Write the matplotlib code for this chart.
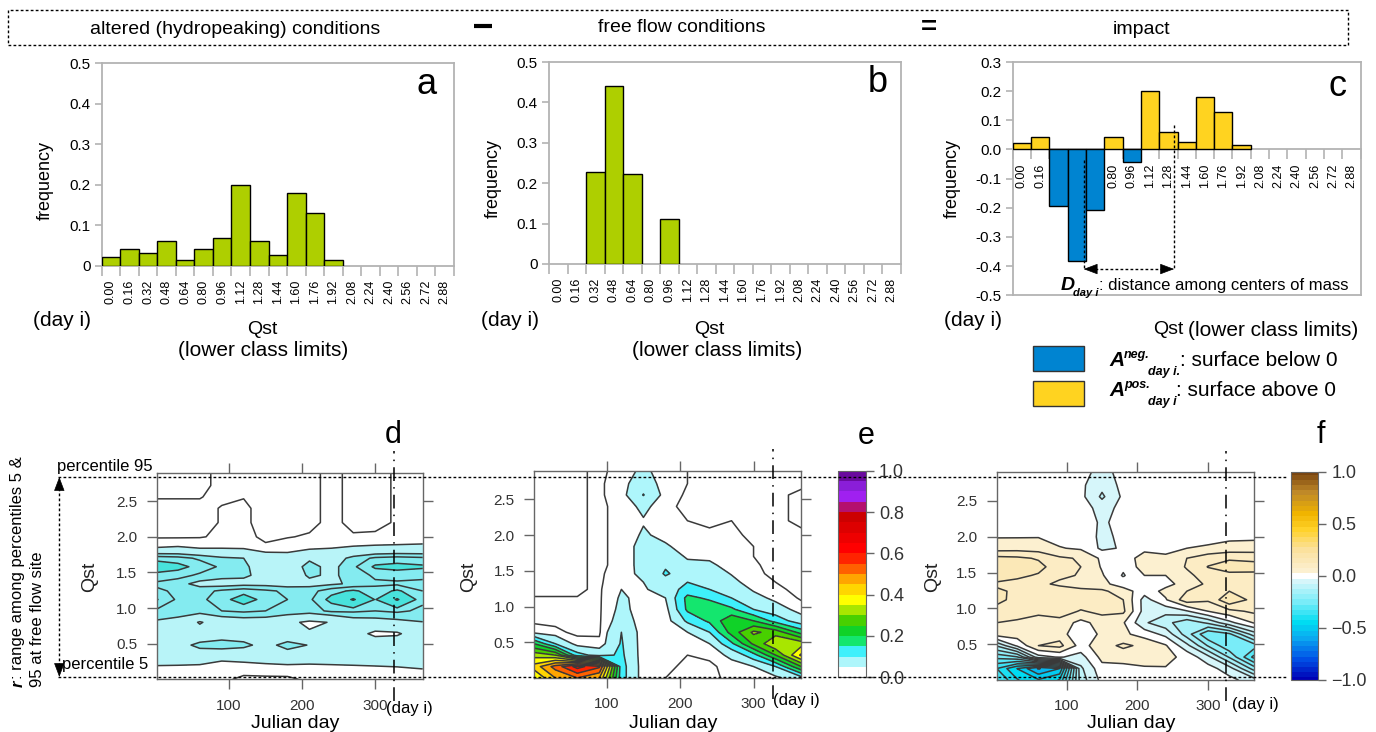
import matplotlib
matplotlib.use("Agg")
import matplotlib.pyplot as plt
import numpy as np
from matplotlib.colors import LinearSegmentedColormap
from matplotlib.patches import Rectangle, FancyArrowPatch
from matplotlib.lines import Line2D

plt.rcParams['font.family'] = ['Liberation Sans', 'DejaVu Sans']

# ---------------- histogram data (day i) ----------------
classes = [0.00, 0.16, 0.32, 0.48, 0.64, 0.80, 0.96, 1.12, 1.28, 1.44,
           1.60, 1.76, 1.92, 2.08, 2.24, 2.40, 2.56, 2.72, 2.88]
freq_altered = [0.022, 0.042, 0.032, 0.060, 0.014, 0.042, 0.069, 0.199, 0.060, 0.027,
                0.180, 0.129, 0.014, 0, 0, 0, 0, 0, 0]
freq_free = [0, 0, 0.227, 0.441, 0.223, 0, 0.111, 0, 0, 0,
             0, 0, 0, 0, 0, 0, 0, 0, 0]
impact = [round(a - b, 3) for a, b in zip(freq_altered, freq_free)]
com_neg, com_pos, com_y = 0.62, 1.41, -0.41

# ---------------- contour data: Qst (rows) x Julian day (cols) ----------------
days = [1, 30, 60, 90, 120, 150, 180, 210, 240, 270, 300, 330, 365]
qst_grid = [0.00, 0.16, 0.32, 0.48, 0.64, 0.80, 0.96, 1.12, 1.24, 1.34,
            1.46, 1.58, 1.70, 1.84, 2.00, 2.20, 2.40, 2.56, 2.72, 2.90]
day_i = 326

altered_freq = [
    [0.030, 0.030, 0.030, 0.030, 0.020, 0.020, 0.020, 0.030, 0.030, 0.030, 0.030, 0.030, 0.030],
    [0.045, 0.044, 0.040, 0.035, 0.035, 0.038, 0.040, 0.040, 0.042, 0.044, 0.046, 0.048, 0.052],
    [0.070, 0.070, 0.075, 0.060, 0.065, 0.070, 0.075, 0.070, 0.070, 0.070, 0.070, 0.070, 0.070],
    [0.080, 0.085, 0.110, 0.120, 0.110, 0.085, 0.115, 0.098, 0.080, 0.080, 0.080, 0.080, 0.080],
    [0.090, 0.080, 0.070, 0.075, 0.075, 0.070, 0.065, 0.055, 0.060, 0.070, 0.040, 0.044, 0.080],
    [0.095, 0.085, 0.046, 0.075, 0.080, 0.080, 0.060, 0.042, 0.052, 0.080, 0.085, 0.090, 0.099],
    [0.120, 0.118, 0.115, 0.125, 0.130, 0.125, 0.120, 0.115, 0.130, 0.130, 0.125, 0.130, 0.120],
    [0.152, 0.120, 0.118, 0.140, 0.165, 0.140, 0.125, 0.120, 0.160, 0.205, 0.148, 0.205, 0.130],
    [0.130, 0.120, 0.115, 0.130, 0.140, 0.130, 0.120, 0.115, 0.140, 0.155, 0.135, 0.155, 0.125],
    [0.120, 0.110, 0.090, 0.085, 0.090, 0.090, 0.085, 0.090, 0.095, 0.105, 0.120, 0.120, 0.120],
    [0.140, 0.135, 0.120, 0.110, 0.105, 0.090, 0.075, 0.105, 0.095, 0.110, 0.130, 0.135, 0.130],
    [0.170, 0.160, 0.140, 0.120, 0.105, 0.085, 0.080, 0.110, 0.090, 0.120, 0.155, 0.160, 0.155],
    [0.140, 0.135, 0.120, 0.105, 0.100, 0.080, 0.070, 0.095, 0.080, 0.110, 0.130, 0.135, 0.130],
    [0.052, 0.055, 0.050, 0.050, 0.048, 0.030, 0.035, 0.045, 0.050, 0.055, 0.058, 0.060, 0.062],
    [0.022, 0.022, 0.023, 0.030, 0.032, 0.020, 0.024, 0.027, 0.027, 0.027, 0.028, 0.028, 0.030],
    [0.020, 0.020, 0.020, 0.026, 0.030, 0.015, 0.020, 0.020, 0.030, 0.020, 0.020, 0.027, 0.027],
    [0.020, 0.020, 0.020, 0.026, 0.030, 0.015, 0.020, 0.020, 0.030, 0.020, 0.020, 0.027, 0.027],
    [0.008, 0.008, 0.008, 0.022, 0.024, 0.018, 0.020, 0.020, 0.030, 0.020, 0.020, 0.027, 0.027],
    [0.000, 0.000, 0.000, 0.020, 0.020, 0.020, 0.020, 0.020, 0.030, 0.020, 0.020, 0.027, 0.027],
    [0.000, 0.000, 0.000, 0.020, 0.020, 0.020, 0.020, 0.020, 0.030, 0.020, 0.020, 0.027, 0.027],
]

free_freq = [
    [0.350, 0.450, 0.500, 0.450, 0.120, 0.030, 0.025, 0.020, 0.020, 0.030, 0.030, 0.040, 0.080],
    [0.420, 0.520, 0.620, 0.560, 0.120, 0.030, 0.030, 0.020, 0.020, 0.035, 0.050, 0.100, 0.250],
    [0.330, 0.300, 0.120, 0.080, 0.110, 0.030, 0.030, 0.025, 0.030, 0.060, 0.130, 0.250, 0.410],
    [0.200, 0.100, 0.035, 0.030, 0.105, 0.030, 0.030, 0.035, 0.050, 0.140, 0.260, 0.345, 0.330],
    [0.040, 0.030, 0.020, 0.022, 0.100, 0.030, 0.030, 0.050, 0.100, 0.220, 0.310, 0.280, 0.180],
    [0.020, 0.020, 0.018, 0.022, 0.070, 0.035, 0.030, 0.110, 0.160, 0.240, 0.200, 0.130, 0.070],
    [0.015, 0.015, 0.015, 0.022, 0.060, 0.035, 0.035, 0.160, 0.190, 0.160, 0.100, 0.070, 0.035],
    [0.012, 0.012, 0.012, 0.022, 0.055, 0.040, 0.050, 0.165, 0.140, 0.100, 0.065, 0.040, 0.022],
    [0.000, 0.000, 0.000, 0.022, 0.050, 0.045, 0.070, 0.120, 0.100, 0.080, 0.045, 0.030, 0.018],
    [0.000, 0.000, 0.000, 0.022, 0.040, 0.050, 0.085, 0.100, 0.085, 0.060, 0.035, 0.025, 0.016],
    [0.000, 0.000, 0.000, 0.022, 0.035, 0.060, 0.105, 0.080, 0.070, 0.048, 0.030, 0.020, 0.015],
    [0.000, 0.000, 0.000, 0.022, 0.030, 0.065, 0.095, 0.060, 0.055, 0.040, 0.028, 0.018, 0.015],
    [0.000, 0.000, 0.000, 0.022, 0.030, 0.065, 0.075, 0.045, 0.045, 0.035, 0.025, 0.015, 0.015],
    [0.000, 0.000, 0.000, 0.022, 0.030, 0.065, 0.055, 0.035, 0.040, 0.030, 0.025, 0.015, 0.015],
    [0.000, 0.000, 0.000, 0.022, 0.030, 0.055, 0.040, 0.030, 0.028, 0.028, 0.022, 0.015, 0.015],
    [0.000, 0.000, 0.000, 0.022, 0.030, 0.047, 0.030, 0.025, 0.022, 0.025, 0.020, 0.015, 0.005],
    [0.000, 0.000, 0.000, 0.022, 0.030, 0.060, 0.030, 0.020, 0.025, 0.025, 0.020, 0.015, 0.005],
    [0.000, 0.000, 0.000, 0.022, 0.035, 0.102, 0.035, 0.022, 0.025, 0.025, 0.020, 0.015, 0.005],
    [0.000, 0.000, 0.000, 0.022, 0.035, 0.080, 0.030, 0.025, 0.022, 0.025, 0.020, 0.015, 0.015],
    [0.000, 0.000, 0.000, 0.022, 0.030, 0.060, 0.030, 0.025, 0.020, 0.025, 0.020, 0.015, 0.015],
]

W, H = 1376, 732
fig = plt.figure(figsize=(W / 100, H / 100), dpi=100)


def rect(l, t, r, b):
    return [l / W, 1 - b / H, (r - l) / W, (b - t) / H]


def ftext(x, y, s, **kw):
    kw.setdefault('ha', 'center')
    kw.setdefault('va', 'center')
    fig.text(x / W, 1 - y / H, s, **kw)


def fline(xs, ys, **kw):
    fig.add_artist(Line2D([x / W for x in xs], [1 - y / H for y in ys],
                          transform=fig.transFigure, **kw))


HEAD = '-|>,head_length=0.45,head_width=0.17'


def fhead(x0, y0, x1, y1):
    fig.add_artist(FancyArrowPatch((x0 / W, 1 - y0 / H), (x1 / W, 1 - y1 / H),
                                   transform=fig.transFigure, arrowstyle=HEAD,
                                   mutation_scale=20, color='black', lw=0.5,
                                   shrinkA=0, shrinkB=0))


DOT = (0, (2, 1.6))
GRAY = '#b3b3b3'
GREEN, BLUE, YELLOW = '#AECF00', '#0084D1', '#FFD320'

# ---------------- header ----------------
fig.add_artist(Rectangle((8 / W, 1 - 45 / H), 1340 / W, 35 / H, transform=fig.transFigure,
                         fill=False, edgecolor='black', lw=1, linestyle=DOT))
ftext(235, 29, 'altered (hydropeaking) conditions', fontsize=14)
ftext(682, 28, 'free flow conditions', fontsize=14)
ftext(1142, 29, 'impact', fontsize=14)
fline([474, 492], [26, 26], color='black', lw=3, solid_capstyle='butt')
ftext(929, 28, '=', fontsize=20, fontweight='bold')


# ---------------- histograms ----------------
def histogram(box, values, ylim, yticks, ylabels, colors, zero_axis=False):
    ax = fig.add_axes(box)
    if zero_axis:
        ax.spines['bottom'].set_position(('data', 0))
    keep = [k for k, v in enumerate(values) if v != 0]
    ax.bar([classes[k] for k in keep], [values[k] for k in keep], width=0.16, align='edge',
           color=[colors[k] for k in keep], edgecolor='black', linewidth=1, zorder=3)
    ax.set_xlim(0, 3.04)
    ax.set_ylim(*ylim)
    ax.set_xticks(classes + [3.04])
    ax.set_xticklabels([])
    ax.set_xticks([c + 0.08 for c in classes], minor=True)
    ax.set_xticklabels(['%.2f' % c for c in classes], minor=True, rotation=90, fontsize=9)
    ax.tick_params(axis='x', which='major', length=7, width=1.2, color=GRAY)
    ax.tick_params(axis='x', which='minor', length=0, pad=10)
    ax.set_yticks(yticks)
    ax.set_yticklabels(ylabels, fontsize=11)
    ax.tick_params(axis='y', length=5, width=1.2, color=GRAY, pad=3)
    for sp in ax.spines.values():
        sp.set_color(GRAY)
        sp.set_linewidth(1.3)
    return ax


yt = [0, 0.1, 0.2, 0.3, 0.4, 0.5]
yl = ['0', '0.1', '0.2', '0.3', '0.4', '0.5']
histogram(rect(101.7, 63.3, 454, 265.7), freq_altered, (0, 0.5), yt, yl, [GREEN] * 19)
histogram(rect(549, 62, 901, 264), freq_free, (0, 0.5), yt, yl, [GREEN] * 19)
ytc = [-0.5, -0.4, -0.3, -0.2, -0.1, 0, 0.1, 0.2, 0.3]
ax_c = histogram(rect(1012.7, 62, 1360.7, 295.3), impact, (-0.5, 0.3), ytc,
                 ['%.1f' % v for v in ytc], [BLUE if v < 0 else YELLOW for v in impact],
                 zero_axis=True)
ax_c.plot([0, 3.04], [-0.5, -0.5], color=GRAY, lw=1.3, clip_on=False)
ax_c.plot([com_neg, com_neg], [-0.036, com_y], color='black', lw=1, linestyle=DOT, zorder=4)
ax_c.plot([com_pos, com_pos], [0.084, com_y], color='black', lw=1, linestyle=DOT, zorder=4)
ax_c.plot([com_neg + 0.1, com_pos - 0.1], [com_y, com_y], color='black', lw=1, linestyle=DOT)
for x0, x1 in [(com_neg + 0.11, com_neg), (com_pos - 0.11, com_pos)]:
    ax_c.annotate('', xy=(x1, com_y), xytext=(x0, com_y),
                  arrowprops=dict(arrowstyle=HEAD, mutation_scale=20, color='black', lw=0.5,
                                  shrinkA=0, shrinkB=0))

for x, y, s in [(427, 85, 'a'), (878, 83, 'b'), (1337, 86, 'c')]:
    ftext(x, y, s, fontsize=26)
for x, y in [(45, 181), (493, 178), (952, 178)]:
    ftext(x, y, 'frequency', fontsize=13, rotation=90)
for x in [62, 510, 973]:
    ftext(x, 321, '(day i)', fontsize=15)
ftext(262, 330, 'Qst', fontsize=14)
ftext(263, 350, '(lower class limits)', fontsize=15)
ftext(709, 329, 'Qst', fontsize=14)
ftext(717, 351, '(lower class limits)', fontsize=15)
ftext(1153, 329, 'Qst', fontsize=14, ha='left')
ftext(1358, 331, '(lower class limits)', fontsize=15, ha='right')

bi = dict(fontweight='bold', fontstyle='italic', ha='left')
ftext(1061, 285, 'D', fontsize=14, **bi)
ftext(1073, 293, 'day i', fontsize=8, **bi)
ftext(1099, 285, ': distance among centers of mass', fontsize=12, ha='left')

fig.add_artist(Rectangle((1033 / W, 1 - 371 / H), 51 / W, 25 / H, transform=fig.transFigure,
                         facecolor=BLUE, edgecolor='#333333', lw=1))
fig.add_artist(Rectangle((1033 / W, 1 - 406 / H), 51 / W, 25 / H, transform=fig.transFigure,
                         facecolor=YELLOW, edgecolor='#333333', lw=1))
ftext(1109, 360, 'A', fontsize=15, **bi)
ftext(1124, 355, 'neg.', fontsize=9, **bi)
ftext(1148, 372, 'day i.', fontsize=9, **bi)
ftext(1180, 360, ': surface below 0', fontsize=15, ha='left')
ftext(1109, 390, 'A', fontsize=15, **bi)
ftext(1124, 385, 'pos.', fontsize=9, **bi)
ftext(1148, 402, 'day i', fontsize=9, **bi)
ftext(1176, 390, ': surface above 0', fontsize=15, ha='left')

# ---------------- contour panels ----------------
d_levels = [0, 0.05, 0.10, 0.15, 0.20, 0.30]
d_colors = ['#ffffff', '#b8f4f8', '#84ebf0', '#48e2dc', '#20d8c0']
e_levels = np.round(np.arange(0, 1.0001, 0.05), 2)
e_colors = ['#ffffff', '#aef6fb', '#3ff0fb', '#14e66e', '#10d228', '#48d000', '#a8e600',
            '#ffff00', '#ffd600', '#ffa500', '#ff6000', '#ff2400', '#ff0000', '#ee0000',
            '#dd0000', '#cc0000', '#b4106e', '#a020f0', '#8a1ed8', '#6a0a9e']
f_nodes = [(-1.0, '#0000b4'), (-0.8, '#0050e6'), (-0.6, '#0aa8f0'), (-0.45, '#00dcf2'),
           (-0.25, '#78ecf8'), (-0.05, '#d6f6fa'), (0.0, '#ffffff'), (0.05, '#fcf0d0'),
           (0.25, '#fbe1a0'), (0.45, '#ffd22a'), (0.6, '#f0b400'), (0.8, '#c08a28'),
           (1.0, '#7a4510')]
f_cmap = LinearSegmentedColormap.from_list('impact', [((v + 1) / 2, c) for v, c in f_nodes])
f_levels = np.round(np.arange(-1.025, 1.026, 0.05), 3)
f_mids = (f_levels[:-1] + f_levels[1:]) / 2
f_colors = [f_cmap((m + 1) / 2) if abs(m) > 0.01 else '#ffffff' for m in f_mids]

d_field = np.array(altered_freq)
e_field = np.array(free_freq)
f_field = d_field - e_field

LINE = '#3a3a3a'


def contour_panel(box, field, levels, colors, line_levels):
    ax = fig.add_axes(box)
    cf = ax.contourf(days, qst_grid, field, levels=levels, colors=colors)
    ax.contour(days, qst_grid, field, levels=line_levels, colors=LINE, linewidths=1.1,
               linestyles='solid')
    ax.set_xlim(1, 365)
    ax.set_ylim(0, 2.9)
    ax.set_xticks([100, 200, 300])
    ax.set_yticks([0.5, 1.0, 1.5, 2.0, 2.5])
    ax.set_yticklabels(['0.5', '1.0', '1.5', '2.0', '2.5'])
    ax.tick_params(direction='out', length=7, width=1, color='#666666', labelcolor='#333333',
                   labelsize=11, top=True, right=True, pad=7)
    for sp in ax.spines.values():
        sp.set_color('#666666')
        sp.set_linewidth(1)
    ax.plot([day_i, day_i], [-0.3, 3.2], color='black', lw=1.1,
            linestyle=(0, (9, 4, 1, 4)), clip_on=False, zorder=5)
    return cf


contour_panel(rect(156.7, 472.7, 422.7, 679.3), d_field, d_levels, d_colors,
              [0.01, 0.025, 0.05, 0.10, 0.125, 0.15, 0.20])
cf_e = contour_panel(rect(534, 470.7, 801.3, 678), e_field, e_levels, e_colors,
                     [0.01, 0.025] + list(e_levels[1:-1]))
cf_f = contour_panel(rect(996.7, 472.3, 1254, 680), f_field, f_levels, f_colors,
                     list(f_levels))

for box, cf, ticks, labels in [
        (rect(837.7, 470.7, 865.7, 677.3), cf_e, [0, 0.2, 0.4, 0.6, 0.8, 1.0],
         ['0.0', '0.2', '0.4', '0.6', '0.8', '1.0']),
        (rect(1290.7, 472, 1318.3, 680), cf_f, [-1, -0.5, 0, 0.5, 1.0],
         ['\u22121.0', '\u22120.5', '0.0', '0.5', '1.0'])]:
    cax = fig.add_axes(box)
    cb = fig.colorbar(cf, cax=cax, ticks=ticks)
    cb.ax.set_yticklabels(labels)
    cb.ax.set_ylim(ticks[0], ticks[-1])
    cb.ax.tick_params(length=6, width=1, color='#666666', labelcolor='#333333', labelsize=13)
    cb.outline.set_edgecolor('#666666')

for x, y, s in [(393, 435, 'd'), (866, 436, 'e'), (1321, 435, 'f')]:
    ftext(x, y, s, fontsize=22)
for x in [90, 469, 933]:
    ftext(x, 577, 'Qst', fontsize=14, rotation=90, color='#222222')
for x in [295, 673, 1131]:
    ftext(x, 723, 'Julian day', fontsize=14)
for x, y in [(386, 709), (773, 700), (1232, 705)]:
    ftext(x, y, '(day i)', fontsize=12, ha='left')

# percentile guide lines and r arrow
fline([58, 1287], [477, 477], color='black', lw=1, linestyle=DOT)
fline([58, 1287], [677, 677], color='black', lw=1, linestyle=DOT)
fline([59.3, 59.3], [488, 666], color='black', lw=1, linestyle=DOT)
fhead(59.3, 490, 59.3, 477)
fhead(59.3, 664, 59.3, 677)
ftext(57, 466, 'percentile 95', fontsize=12, ha='left')
ftext(62, 665, 'percentile 5', fontsize=12, ha='left')
ftext(18, 687, 'r', fontsize=12, rotation=90, va='bottom', fontweight='bold', fontstyle='italic')
ftext(18, 679, ': range among percentiles 5 &', fontsize=12, rotation=90, va='bottom')
ftext(38, 687, '95 at free flow site', fontsize=12, rotation=90, va='bottom')

fig.savefig('out.png', dpi=100)
